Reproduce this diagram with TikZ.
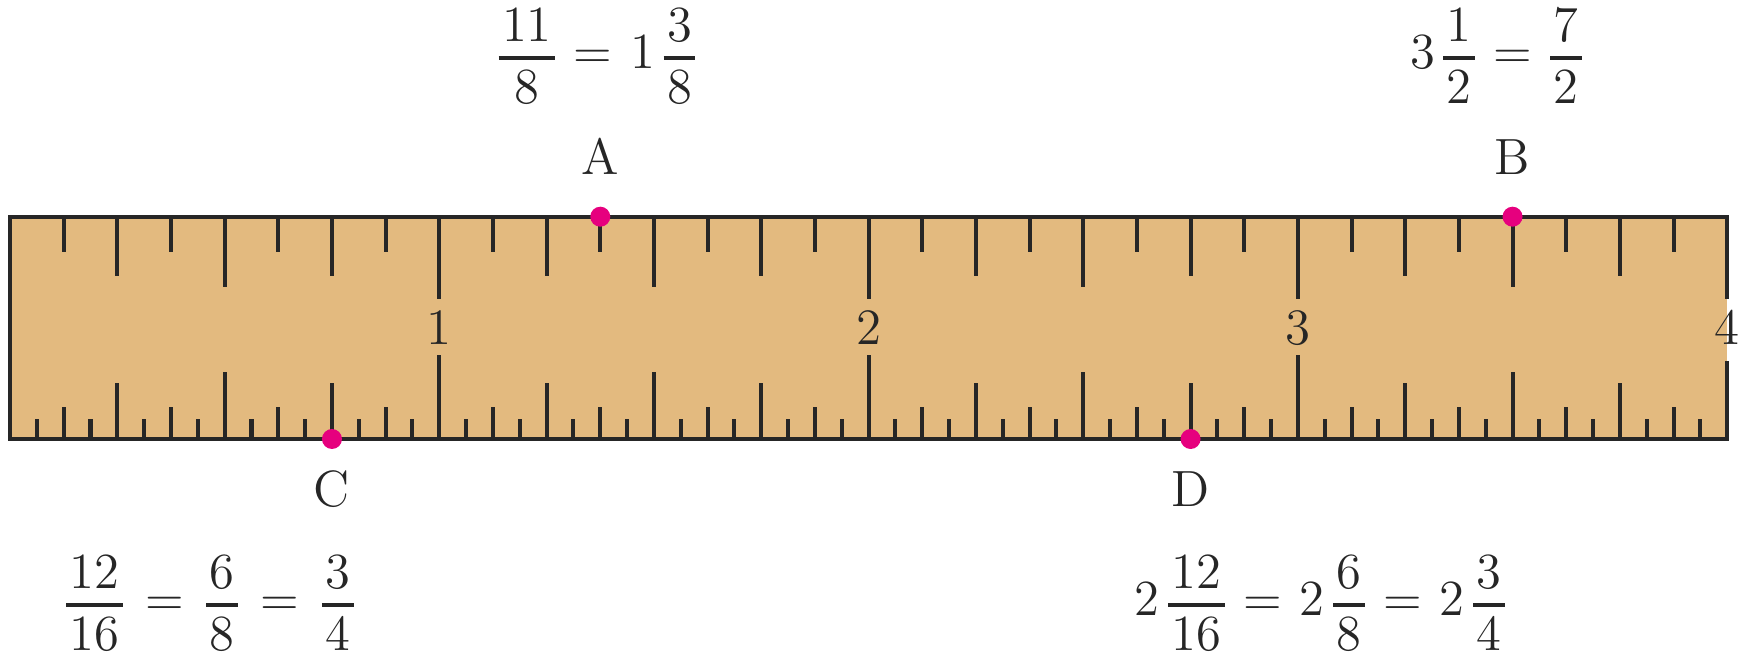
\documentclass[tikz,border=0pt]{standalone}
\usetikzlibrary{positioning}
\definecolor{rTan}{HTML}{E3BA7F}
\definecolor{rInk}{HTML}{262626}
\definecolor{rPink}{HTML}{E6007E}
\newcommand{\inch}{4.293}
% stacked fraction with a heavier, wider bar
\newcommand{\fr}[2]{\mathinner{\vcenter{\offinterlineskip
  \halign{\hfil\kern1pt##\kern1pt\hfil\cr
    $#1$\vrule depth 4.07pt width 0pt\cr
    \noalign{\hrule height 1.2pt}
    \vrule height 12.43pt width 0pt$#2$\cr}}}}

\begin{document}
\begin{tikzpicture}[
  every node/.style={font=\fontsize{14.5}{17}\selectfont, text=rInk},
  tick/.style={draw=rInk, line width=1.15pt},
  num/.style={anchor=base, inner sep=0pt},
  dot/.style={circle, fill=rPink, inner sep=0pt, minimum size=2mm},
  eqn/.style={anchor=base, inner sep=0pt},
]
  \useasboundingbox (-0.10,-2.19) rectangle (17.38,4.39);

  % Ruler body
  \fill[rTan] (0,0) rectangle (4*\inch,2.223);
  \draw[tick, line join=miter] (4*\inch,1.40) -- (4*\inch,2.223) -- (0,2.223)
    -- (0,0) -- (4*\inch,0) -- (4*\inch,0.783);

  % Top scale, eighths
  \foreach \k in {1,3,...,31} \draw[tick] (\k*\inch/8,2.223) -- ++(0,-0.35);
  \foreach \k in {2,6,...,30} \draw[tick] (\k*\inch/8,2.223) -- ++(0,-0.59);
  \foreach \k in {4,12,20,28} \draw[tick] (\k*\inch/8,2.223) -- ++(0,-0.706);
  \foreach \k in {8,16,24} \draw[tick] (\k*\inch/8,2.223) -- ++(0,-0.82);

  % Bottom scale, sixteenths
  \foreach \k in {1,3,...,63} \draw[tick] (\k*\inch/16,0) -- ++(0,0.20);
  \foreach \k in {2,6,...,62} \draw[tick] (\k*\inch/16,0) -- ++(0,0.32);
  \foreach \k in {4,12,...,60} \draw[tick] (\k*\inch/16,0) -- ++(0,0.56);
  \foreach \k in {8,24,40,56} \draw[tick] (\k*\inch/16,0) -- ++(0,0.67);
  \foreach \k in {16,32,48} \draw[tick] (\k*\inch/16,0) -- ++(0,0.84);

  % Inch numbers
  \foreach \n in {1,2,3,4} \node[num] (n\n) at (\n*\inch,0.94) {\n};

  % Marked points
  \node[dot] (dA) at (11*\inch/8,2.223) {};
  \node[dot] (dB) at (28*\inch/8,2.223) {};
  \node[dot] (dC) at (12*\inch/16,0) {};
  \node[dot] (dD) at (44*\inch/16,0) {};

  \node[num] (lA) at ([yshift=4.19mm]dA.center) {A};
  \node[num] (lB) at ([yshift=4.19mm]dB.center) {B};
  \node[num] (lC) at ([yshift=-6.8mm]dC.center) {C};
  \node[num] (lD) at ([yshift=-6.8mm]dD.center) {D};

  % Equations
  \node[eqn] (eqA) at (5.87,3.70)
    {$\fr{11}{8}\mkern1.5mu=\mkern1.5mu1\fr{3}{8}$};
  \node[eqn] (eqB) at (14.86,3.70)
    {$3\fr{1}{2}\mkern1.5mu=\mkern1.5mu\fr{7}{2}$};
  \node[eqn] (eqC) at (2.00,-1.77)
    {$\fr{12}{16}\mkern3mu=\mkern3mu\fr{6}{8}\mkern3mu=\mkern3mu\fr{3}{4}$};
  \node[eqn] (eqD) at (13.10,-1.77)
    {$2\fr{12}{16}\mkern1.5mu=\mkern1.5mu2\fr{6}{8}\mkern1.5mu=\mkern1.5mu2\fr{3}{4}$};
\end{tikzpicture}
\end{document}
